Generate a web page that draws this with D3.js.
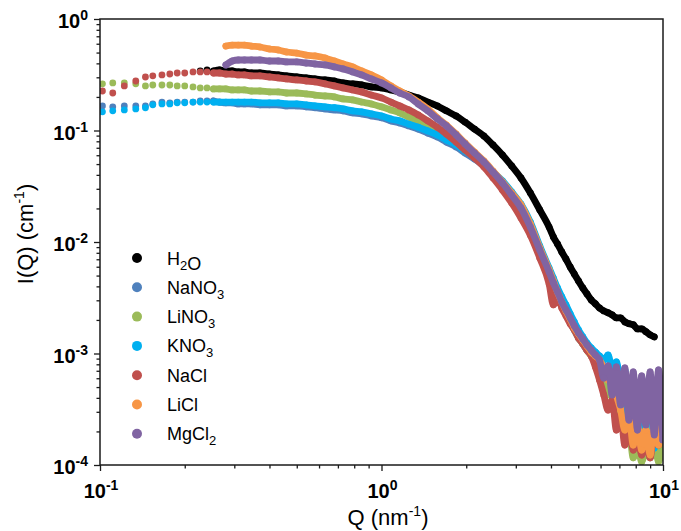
<!DOCTYPE html>
<html>
<head>
<meta charset="utf-8">
<script src="https://cdn.jsdelivr.net/npm/d3@7"></script>
<style>
  body { margin: 0; background: #fff; }
  svg { display: block; }
  .tick-label { font-family: "Liberation Sans", Arial, sans-serif; font-weight: bold; font-size: 20px; fill: #000; }
  .axis-title { font-family: "Liberation Sans", Arial, sans-serif; font-size: 22px; fill: #000; }
  .legend text { font-family: "Liberation Sans", Arial, sans-serif; font-size: 18px; fill: #000; }
</style>
</head>
<body>
<div id="chart"></div>
<script>
// Scattering vector Q (nm^-1), shared by all samples
const Q = [0.102, 0.111, 0.122, 0.134, 0.145, 0.154, 0.166, 0.177, 0.188, 0.200, 0.214,
  0.227, 0.240, 0.253, 0.266, 0.280, 0.295, 0.310, 0.326, 0.345, 0.37, 0.40, 0.43, 0.46,
  0.50, 0.54, 0.58, 0.63, 0.68, 0.73, 0.79, 0.85, 0.92, 1.00, 1.08, 1.16, 1.25, 1.35,
  1.46, 1.58, 1.70, 1.84, 1.98, 2.14, 2.31, 2.49, 2.69, 2.90, 3.13, 3.38, 3.65, 3.94,
  4.08, 4.22, 4.37, 4.52, 4.68, 4.84, 5.01, 5.19, 5.37, 5.56, 5.75, 5.95, 6.16, 6.38,
  6.60, 6.83, 7.07, 7.32, 7.57, 7.84, 8.11, 8.40, 8.69, 9.00, 9.31, 9.64, 9.98]

// I(Q) in cm^-1, one value per Q (null = no point)
const H2O = [null, null, null, null, null, null, null, null, null, null, null,
  0.342, 0.349, 0.342, 0.349, 0.342, 0.342, 0.335, 0.335, 0.328, 0.328, 0.321, 0.315, 0.309,
  0.302, 0.296, 0.290, 0.284, 0.278, 0.267, 0.262, 0.256, 0.246, 0.241, 0.231, 0.222, 0.208, 0.196,
  0.180, 0.166, 0.150, 0.135, 0.119, 0.103, 0.0893, 0.0742, 0.0603, 0.0481, 0.0375, 0.0275, 0.0194, 0.0136,
  0.0111, 0.0096, 0.00814, 0.00704, 0.00597, 0.00517, 0.00447, 0.00387, 0.00342, 0.00302, 0.00279, 0.00256, 0.00241, 0.00232,
  0.00222, 0.00209, 0.00209, 0.00192, 0.00185, 0.00181, 0.00166, 0.00166, 0.00157, 0.00147, 0.00141, null, null]

const NaNO3 = [0.166, 0.163, 0.166, 0.166, 0.166, 0.173, 0.180, 0.177, 0.180, 0.180, 0.180,
  0.184, 0.184, 0.184, 0.180, 0.177, 0.177, 0.173, 0.173, 0.173, 0.170, 0.170, 0.170, 0.166,
  0.166, 0.163, 0.160, 0.156, 0.153, 0.150, 0.144, 0.141, 0.135, 0.130, 0.122, 0.117, 0.110, 0.103,
  0.0950, 0.0876, 0.0789, 0.0712, 0.0628, 0.0555, 0.0481, 0.0407, 0.0339, 0.0269, 0.0210, 0.0145, 0.00884, 0.00539,
  0.00420, 0.00335, 0.00279, 0.00237, 0.00192, 0.00163, 0.00138, 0.00122, 0.00107, 0.00099, 0.00091, 0.00081, 0.000684, 0.000522,
  0.000603, 0.000383, 0.000471, 0.000253, 0.000383, 0.000168, 0.000311, 0.000151, 0.000253, 0.000136, 0.000206, 0.000123, 0.000253]

const LiNO3 = [0.262, 0.267, 0.267, 0.262, 0.251, 0.256, 0.256, 0.256, 0.251, 0.251, 0.246,
  0.241, 0.241, 0.236, 0.236, 0.236, 0.231, 0.231, 0.231, 0.226, 0.226, 0.222, 0.222, 0.217,
  0.217, 0.213, 0.208, 0.204, 0.200, 0.192, 0.188, 0.180, 0.173, 0.163, 0.153, 0.144, 0.132, 0.122,
  0.110, 0.0991, 0.0876, 0.0773, 0.0668, 0.0579, 0.0491, 0.0407, 0.0332, 0.0264, 0.0206, 0.0139, 0.00848, 0.00516,
  0.00412, 0.00335, 0.00273, 0.00227, 0.00192, 0.00163, 0.00138, 0.00122, 0.00107, 0.00095, 0.00084, 0.000711, 0.000603, 0.000425,
  0.000471, 0.000253, 0.000311, 0.000168, 0.000206, 0.000116, 0.000151, 0.000107, 0.000136, 0.000116, 0.000168, 0.000107, 0.000151]

const KNO3 = [0.147, 0.150, 0.153, 0.156, 0.160, 0.170, 0.173, 0.173, 0.177, 0.177, 0.180,
  0.180, 0.180, 0.180, 0.180, 0.180, 0.180, 0.180, 0.180, 0.180, 0.177, 0.177, 0.177, 0.173,
  0.173, 0.170, 0.166, 0.163, 0.160, 0.156, 0.150, 0.147, 0.141, 0.135, 0.127, 0.122, 0.114, 0.107,
  0.0991, 0.0912, 0.0822, 0.0742, 0.0655, 0.0579, 0.0501, 0.0424, 0.0353, 0.0281, 0.0219, 0.0151, 0.0092, 0.00584,
  0.00475, 0.00387, 0.00322, 0.00273, 0.00227, 0.00192, 0.00163, 0.00141, 0.00124, 0.00112, 0.00103, 0.00095, 0.000875, 0.000969,
  0.000741, 0.000840, 0.000579, 0.000711, 0.000253, 0.000522, 0.000206, 0.000603, 0.000168, 0.000471, 0.000142, 0.000383, 0.000206]

const NaCl = [0.226, 0.217, 0.251, 0.278, 0.302, 0.309, 0.315, 0.321, 0.328, 0.328, 0.335,
  0.335, 0.335, 0.328, 0.328, 0.321, 0.321, 0.315, 0.315, 0.309, 0.309, 0.302, 0.296, 0.290,
  0.284, 0.278, 0.273, 0.262, 0.251, 0.241, 0.231, 0.222, 0.208, 0.196, 0.180, 0.166, 0.153, 0.138,
  0.122, 0.107, 0.0930, 0.0789, 0.0668, 0.0567, 0.0472, 0.0375, 0.0292, 0.0224, 0.0164, 0.0115, 0.00719, 0.00420,
  0.00273, 0.00328, 0.00256, 0.00218, 0.00185, 0.00163, 0.00138, 0.00122, 0.00107, 0.00095, 0.00076, 0.000579, 0.000425, 0.000311,
  0.000383, 0.000206, 0.000281, 0.000151, 0.000229, 0.000136, 0.000186, 0.000123, 0.000168, 0.000116, 0.000206, 0.000151, 0.000253]

const LiCl = [null, null, null, null, null, null, null, null, null, null, null,
  null, null, null, null, 0.572, 0.584, 0.584, 0.584, 0.572, 0.561, 0.538, 0.527, 0.506,
  0.495, 0.475, 0.466, 0.447, 0.420, 0.395, 0.372, 0.342, 0.315, 0.284, 0.251, 0.226, 0.204, 0.180,
  0.156, 0.130, 0.112, 0.0930, 0.0773, 0.0641, 0.0533, 0.0433, 0.0346, 0.0275, 0.0215, 0.0145, 0.00884, 0.00561,
  0.00447, 0.00357, 0.00290, 0.00241, 0.00204, 0.00170, 0.00150, 0.00132, 0.00117, 0.00103, 0.00095, 0.000875, 0.000741, 0.000579,
  0.000642, 0.000425, 0.000311, 0.000206, 0.000281, 0.000151, 0.000229, 0.000136, 0.000206, 0.000123, 0.000253, 0.000151, 0.000311]

const MgCl2 = [null, null, null, null, null, null, null, null, null, null, null,
  null, null, null, null, 0.387, 0.420, 0.429, 0.429, 0.429, 0.429, 0.420, 0.420, 0.412,
  0.412, 0.403, 0.395, 0.387, 0.372, 0.357, 0.335, 0.315, 0.290, 0.267, 0.241, 0.217, 0.200, 0.173,
  0.150, 0.127, 0.110, 0.0912, 0.0757, 0.0628, 0.0522, 0.0424, 0.0339, 0.0264, 0.0202, 0.0136, 0.00848, 0.00539,
  0.00430, 0.00357, 0.00290, 0.00246, 0.00209, 0.00177, 0.00153, 0.00135, 0.00119, 0.00107, 0.000969, 0.000875, 0.000603, 0.000773,
  0.000425, 0.000757, 0.000346, 0.000741, 0.000253, 0.000684, 0.000206, 0.000629, 0.000229, 0.000684, 0.000186, 0.000711, 0.000168]

const seriesNames = ['H2O', 'NaNO3', 'LiNO3', 'KNO3', 'NaCl', 'LiCl', 'MgCl2']
const seriesValues = [H2O, NaNO3, LiNO3, KNO3, NaCl, LiCl, MgCl2]
const seriesColors = ['#000000', '#4F81BD', '#9BBB59', '#00B0F0', '#C0504D', '#F79646', '#8064A2']

const xTicks = [0.1, 1, 10]
const xTickExp = ['-1', '0', '1']
const yTicks = [1e-4, 1e-3, 1e-2, 1e-1, 1]
const yTickExp = ['-4', '-3', '-2', '-1', '0']

const width = 681
const height = 531
const margin = { top: 19, right: 18, bottom: 66, left: 100 }
const dotR = 3.4
const denseFrom = 0.25 // above this Q the points run together into a band

const x = d3.scaleLog()
  .domain([0.1, 10])
  .range([margin.left, width - margin.right])

const y = d3.scaleLog()
  .domain([1e-4, 1])
  .range([height - margin.bottom, margin.top])

const minorTicks = majors => majors.slice(0, -1).flatMap(d => d3.range(2, 10).map(m => m * d))

const svg = d3.select('#chart')
  .append('svg')
  .attr('width', width)
  .attr('height', height)

svg.append('defs').append('clipPath')
  .attr('id', 'plot-clip')
  .append('rect')
  .attr('x', margin.left)
  .attr('y', margin.top)
  .attr('width', width - margin.left - margin.right)
  .attr('height', height - margin.top - margin.bottom)

/* Data */
const plot = svg.append('g').attr('clip-path', 'url(#plot-clip)')

const line = d3.line()
  .x(d => x(d[0]))
  .y(d => y(d[1]))
  .curve(d3.curveMonotoneX)

seriesNames.forEach((name, i) => {
  const pts = Q.map((q, j) => [q, seriesValues[i][j]]).filter(d => d[1] != null)
  const g = plot.append('g').attr('class', 'series').attr('fill', seriesColors[i])

  g.append('path')
    .datum(pts.filter(d => d[0] >= denseFrom))
    .attr('d', line)
    .attr('fill', 'none')
    .attr('stroke', seriesColors[i])
    .attr('stroke-width', dotR * 2)
    .attr('stroke-linejoin', 'round')
    .attr('stroke-linecap', 'round')

  g.selectAll('circle')
    .data(pts)
    .join('circle')
    .attr('cx', d => x(d[0]))
    .attr('cy', d => y(d[1]))
    .attr('r', dotR)
})

/* Axes */
const frameColor = '#1a1a1a'

const xAxisMajor = svg.append('g')
  .attr('transform', `translate(0, ${height - margin.bottom})`)
  .call(d3.axisBottom(x).tickValues(xTicks).tickSize(6).tickFormat(''))
const xAxisMinor = svg.append('g')
  .attr('transform', `translate(0, ${height - margin.bottom})`)
  .call(d3.axisBottom(x).tickValues(minorTicks(xTicks)).tickSize(3.5).tickFormat(''))
const yAxisMajor = svg.append('g')
  .attr('transform', `translate(${margin.left}, 0)`)
  .call(d3.axisLeft(y).tickValues(yTicks).tickSize(6).tickFormat(''))
const yAxisMinor = svg.append('g')
  .attr('transform', `translate(${margin.left}, 0)`)
  .call(d3.axisLeft(y).tickValues(minorTicks(yTicks)).tickSize(3.5).tickFormat(''))

;[xAxisMajor, xAxisMinor, yAxisMajor, yAxisMinor].forEach(a => {
  a.select('.domain').remove()
  a.selectAll('line').attr('stroke', frameColor).attr('stroke-width', 1.3)
})

svg.append('rect')
  .attr('x', margin.left)
  .attr('y', margin.top)
  .attr('width', width - margin.left - margin.right)
  .attr('height', height - margin.top - margin.bottom)
  .attr('fill', 'none')
  .attr('stroke', frameColor)
  .attr('stroke-width', 1.5)

const powerLabel = (text, exp) => {
  text.append('tspan').text('10')
  text.append('tspan').attr('dy', -8).attr('font-size', 14).text(exp)
}

xTicks.forEach((v, i) => {
  svg.append('text')
    .attr('class', 'tick-label')
    .attr('x', x(v) + 1)
    .attr('y', height - margin.bottom + 33)
    .attr('text-anchor', 'middle')
    .call(powerLabel, xTickExp[i])
})

yTicks.forEach((v, i) => {
  svg.append('text')
    .attr('class', 'tick-label')
    .attr('x', margin.left - 12)
    .attr('y', y(v) + 9)
    .attr('text-anchor', 'end')
    .call(powerLabel, yTickExp[i])
})

/* Axis titles */
const xTitle = svg.append('text')
  .attr('class', 'axis-title')
  .attr('x', 388)
  .attr('y', 525)
  .attr('text-anchor', 'middle')
xTitle.append('tspan').text('Q (nm')
xTitle.append('tspan').attr('dy', -9).attr('font-size', 14).text('-1')
xTitle.append('tspan').attr('dy', 9).text(')')

const yTitle = svg.append('text')
  .attr('class', 'axis-title')
  .attr('transform', 'translate(33, 234) rotate(-90)')
  .attr('text-anchor', 'middle')
yTitle.append('tspan').text('I(Q) (cm')
yTitle.append('tspan').attr('dy', -9).attr('font-size', 14).text('-1')
yTitle.append('tspan').attr('dy', 9).text(')')

/* Legend */
const legend = svg.append('g').attr('class', 'legend')
const rowGap = 29.3

seriesNames.forEach((name, i) => {
  const row = legend.append('g').attr('transform', `translate(137, ${258 + i * rowGap})`)
  row.append('circle').attr('r', 5).attr('fill', seriesColors[i])
  const t = row.append('text').attr('x', 30).attr('y', 6.5)
  // digits in formulas are written as subscripts
  name.split(/(\d+)/).filter(s => s).forEach(part => {
    if (/^\d+$/.test(part)) {
      t.append('tspan').attr('dy', 5).attr('font-size', 13).text(part)
      t.append('tspan').attr('dy', -5).text('')
    } else {
      t.append('tspan').text(part)
    }
  })
})
</script>
</body>
</html>
